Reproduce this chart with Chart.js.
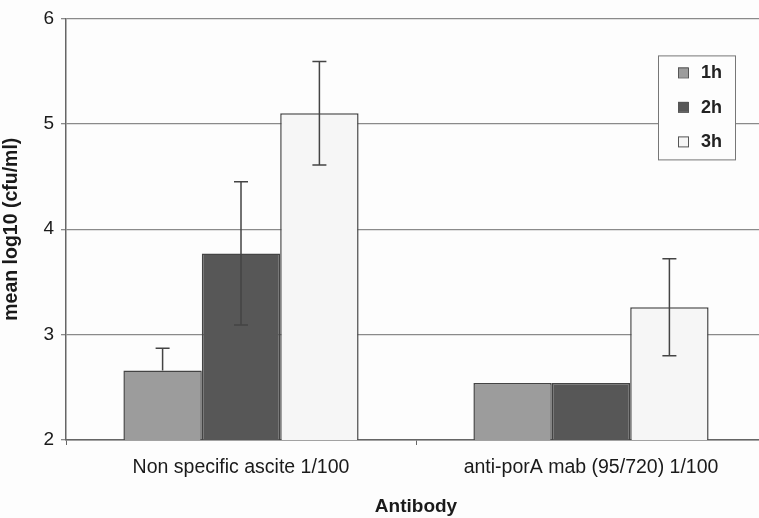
<!DOCTYPE html>
<html>
<head>
<meta charset="utf-8">
<script src="https://cdn.jsdelivr.net/npm/chart.js@4"></script>
<style>
  html, body { margin: 0; padding: 0; background: #fdfdfd; overflow: hidden; }
</style>
</head>
<body>
<canvas id="chart" width="766" height="518"></canvas>
<script>
const categories = ['Non specific ascite 1/100', 'anti-porA mab (95/720) 1/100'];
const seriesNames = ['1h', '2h', '3h'];
const values1h = [2.66, 2.54];
const values2h = [3.77, 2.54];
const values3h = [5.10, 3.26];
// error bar half-lengths (up / down), 0 = not drawn
const errUp1h = [0.21, 0];
const errDown1h = [0, 0];
const errUp2h = [0.68, 0];
const errDown2h = [0.68, 0];
const errUp3h = [0.49, 0.46];
const errDown3h = [0.49, 0.46];
const yTicks = [2, 3, 4, 5, 6];

const colors = ['#9c9c9c', '#575757', '#f6f6f6'];
const errors = [[errUp1h, errDown1h], [errUp2h, errDown2h], [errUp3h, errDown3h]];

const errorBars = {
    id: 'errorBars',
    afterDatasetsDraw(chart) {
        const ctx = chart.ctx;
        const y = chart.scales.y;
        ctx.save();
        ctx.strokeStyle = '#444';
        ctx.lineWidth = 1.5;
        chart.data.datasets.forEach((ds, i) => {
            const meta = chart.getDatasetMeta(i);
            meta.data.forEach((bar, j) => {
                const up = errors[i][0][j], down = errors[i][1][j];
                if (!up && !down) return;
                const v = ds.data[j];
                const yTop = y.getPixelForValue(v + up);
                const yBot = y.getPixelForValue(v - down);
                ctx.beginPath();
                ctx.moveTo(bar.x, yTop); ctx.lineTo(bar.x, yBot);
                if (up) { ctx.moveTo(bar.x - 7, yTop); ctx.lineTo(bar.x + 7, yTop); }
                if (down) { ctx.moveTo(bar.x - 7, yBot); ctx.lineTo(bar.x + 7, yBot); }
                ctx.stroke();
            });
        });
        ctx.restore();
    }
};

const boxLegend = {
    id: 'boxLegend',
    afterDraw(chart) {
        const ctx = chart.ctx;
        const a = chart.chartArea;
        const bx = a.right - 108, by = a.top + 37, bw = 77, bh = 104;
        ctx.save();
        ctx.fillStyle = '#fdfdfd';
        ctx.fillRect(bx, by, bw, bh);
        ctx.strokeStyle = '#777';
        ctx.lineWidth = 1;
        ctx.strokeRect(bx + 0.5, by + 0.5, bw, bh);
        ctx.font = 'bold 18px "Liberation Sans", Arial, sans-serif';
        ctx.textBaseline = 'middle';
        chart.data.datasets.forEach((ds, i) => {
            const cy = by + 17 + i * 34.5;
            ctx.fillStyle = ds.backgroundColor;
            ctx.fillRect(bx + 20, cy - 5, 10, 10);
            ctx.strokeStyle = '#555';
            ctx.strokeRect(bx + 20.5, cy - 4.5, 10, 10);
            ctx.fillStyle = '#222';
            ctx.fillText(ds.label, bx + 43, cy + 1);
        });
        ctx.restore();
    }
};

new Chart(document.getElementById('chart'), {
    type: 'bar',
    data: {
        labels: categories,
        datasets: seriesNames.map((name, i) => ({
            label: name,
            data: [values1h, values2h, values3h][i],
            backgroundColor: colors[i],
            borderColor: '#444',
            borderWidth: 1.5,
            borderSkipped: false,
            barPercentage: 1,
            categoryPercentage: 0.672
        }))
    },
    options: {
        responsive: false,
        animation: false,
        layout: { padding: { top: 17, right: 0, left: 0, bottom: 0 } },
        plugins: { legend: { display: false }, tooltip: { enabled: false } },
        scales: {
            x: {
                grid: { drawOnChartArea: false, tickLength: 5, color: '#666', offset: true },
                border: { color: '#666', width: 1.5 },
                ticks: { color: '#1a1a1a', font: { family: '"Liberation Sans", Arial', size: 19.5 }, padding: 11 },
                title: { display: true, text: 'Antibody', color: '#1a1a1a', font: { family: '"Liberation Sans", Arial', size: 19, weight: 'bold' }, padding: { top: 10, bottom: 0 } },
                afterFit: s => { s.height = 78; }
            },
            y: {
                min: 2,
                max: 6,
                afterBuildTicks: s => { s.ticks = yTicks.map(v => ({ value: v })); },
                grid: { color: '#8a8a8a', lineWidth: 1.3, tickLength: 5 },
                border: { color: '#666', width: 1.5 },
                ticks: { color: '#1a1a1a', font: { family: '"Liberation Sans", Arial', size: 19 }, padding: 7 },
                title: { display: true, text: 'mean log10 (cfu/ml)', color: '#1a1a1a', font: { family: '"Liberation Sans", Arial', size: 19.5, weight: 'bold' }, padding: { top: 0, bottom: 5 } },
                afterFit: s => { s.width = 66; }
            }
        }
    },
    plugins: [errorBars, boxLegend]
});
</script>
</body>
</html>
